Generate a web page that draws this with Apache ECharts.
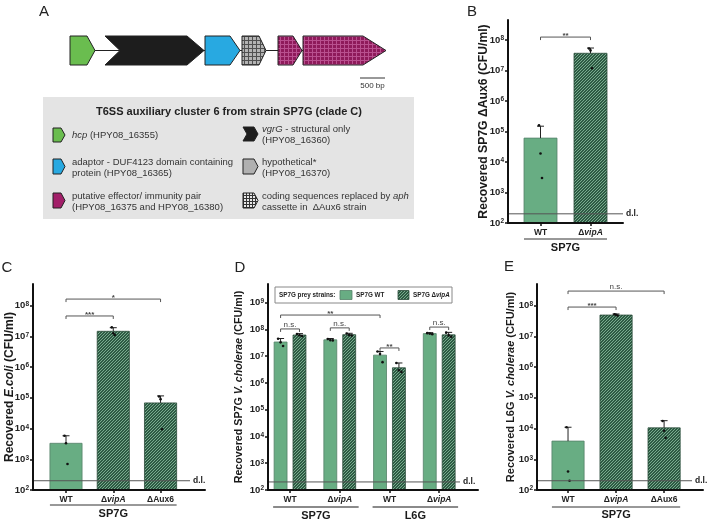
<!DOCTYPE html>
<html><head><meta charset="utf-8">
<script src="https://cdn.jsdelivr.net/npm/echarts@6/dist/echarts.min.js"></script>
<style>html,body{margin:0;padding:0;background:#fff}#c{width:709px;height:520px}</style>
</head><body><div id="c"></div>
<script>
// ================= DATA =================
// Panel A – gene map (bp)
const geneIds = ['hcp', 'vgrG', 'adaptor', 'hypothetical', 'effector', 'immunity'];
const geneStartBp = [0, 700, 2700, 3440, 4160, 4660];
const geneEndBp = [500, 2680, 3400, 3920, 4640, 6320];
const clusterLengthBp = 6320;
const scaleBarBp = 500;

const detectionLimit = 200; // CFU/ml

// Panel B – recovered SP7G ΔAux6
const bCategories = ['WT', 'ΔvipA'];
const bGroup = 'SP7G';
const bMeans = [6.1e4, 3.7e7];
const bSdTop = [1.5e5, 5.5e7];
const bReplicates = [[1.6e5, 1.9e4, 3.0e3], [5.3e7, 4.6e7, 1.2e7]];
const bSig = [[0, 1, '**']];
const bExponents = [2, 3, 4, 5, 6, 7, 8];

// Panel C – recovered E. coli
const cCategories = ['WT', 'ΔvipA', 'ΔAux6'];
const cGroup = 'SP7G';
const cMeans = [3.3e3, 1.45e7, 6.8e4];
const cSdTop = [5.8e3, 1.9e7, 1.15e5];
const cReplicates = [[5.8e3, 3.3e3, 7.0e2], [1.95e7, 1.25e7, 1.1e7], [1.1e5, 9.0e4, 9.5e3]];
const cSig = [[0, 2, '*'], [0, 1, '***']];
const cExponents = [2, 3, 4, 5, 6, 7, 8];

// Panel D – recovered SP7G V. cholerae (two prey strains)
const dDonors = ['WT', 'ΔvipA', 'WT', 'ΔvipA'];
const dDonorGroups = [['SP7G', 0, 1], ['L6G', 2, 3]];
const dPreyNames = ['SP7G WT', 'SP7G ΔvipA'];
const dPreyWtMeans = [3.4e7, 4.1e7, 1.1e7, 7.0e7];
const dPreyWtSdTop = [4.6e7, 4.6e7, 1.5e7, 7.6e7];
const dPreyWtReplicates = [[4.5e7, 3.3e7, 2.4e7], [4.4e7, 4.0e7, 3.9e7], [1.5e7, 1.2e7, 6.0e6], [7.3e7, 7.0e7, 6.7e7]];
const dPreyVipAMeans = [6.2e7, 6.4e7, 3.7e6, 6.3e7];
const dPreyVipASdTop = [7.0e7, 7.2e7, 5.6e6, 7.8e7];
const dPreyVipAReplicates = [[6.8e7, 6.1e7, 5.7e7], [7.1e7, 6.2e7, 5.9e7], [5.6e6, 3.0e6, 2.6e6], [7.6e7, 6.0e7, 5.4e7]];
// [fromDonor, fromPrey, toDonor, toPrey, label]
const dSig = [[0, 0, 0, 1, 'n.s.'], [1, 0, 1, 1, 'n.s.'], [2, 0, 2, 1, '**'], [3, 0, 3, 1, 'n.s.'], [0, 0, 2, 0, '**']];
const dExponents = [2, 3, 4, 5, 6, 7, 8, 9];

// Panel E – recovered L6G V. cholerae
const eCategories = ['WT', 'ΔvipA', 'ΔAux6'];
const eGroup = 'SP7G';
const eMeans = [3.9e3, 4.9e7, 1.05e4];
const eSdTop = [1.1e4, 5.3e7, 1.8e4];
const eReplicates = [[1.1e4, 4.0e2, 2.0e2], [5.2e7, 5.0e7, 4.7e7], [1.75e4, 8.5e3, 5.0e3]];
const eSig = [[0, 2, 'n.s.'], [0, 1, '***']];
const eExponents = [2, 3, 4, 5, 6, 7, 8];

// ================= LAYOUT / STYLE =================
const FONT = '"Liberation Sans", Arial, Helvetica, sans-serif';
const GREEN = '#68ad83', GREEN_EDGE = '#55826a';
const LAYOUT = {
  A: {grid: {left: 70, top: 36, width: 316, height: 29}},
  B: {grid: {left: 508, top: 20, width: 115, height: 203}, xMin: -0.65, xMax: 1.65, yMax: 8.66, barW: 0.66,
      nameGap: 18.5, nameSize: 12.2, dlEnd: 0, ulOff: 16, glOff: 25, jitter: 1.5, sigLevels: [8.10], ulColor: '#333', ulWidth: 1},
  C: {grid: {left: 33, top: 284, width: 172, height: 206}, xMin: -0.698, xMax: 2.94, yMax: 8.7, barW: 0.68,
      nameGap: 17.5, nameSize: 12, dlEnd: -15, ulOff: 15, glOff: 24, jitter: 1.5, sigLevels: [8.21, 7.66], ulColor: '#333', ulWidth: 1},
  D: {grid: {left: 268, top: 284, width: 210, height: 206}, xMin: -0.443, xMax: 3.78, yMax: 9.7, barW: 0.26, preyOffset: 0.19,
      nameGap: 23, nameSize: 10.7, dlEnd: -18, ulOff: 17, glOff: 26, jitter: 2.5, sigLevels: [8.02, 8.06, 7.31, 8.09, 8.54], ulColor: '#8a8a8a', ulWidth: 2},
  E: {grid: {left: 537, top: 284, width: 166, height: 206}, xMin: -0.646, xMax: 2.81, yMax: 8.7, barW: 0.67,
      nameGap: 20.5, nameSize: 11, dlEnd: -11, ulOff: 17, glOff: 25, jitter: 1.5, sigLevels: [8.47, 7.95], ulColor: '#333', ulWidth: 1}
};

function makeHatch(bg, fg, s) {
  const c = document.createElement('canvas'); c.width = c.height = s;
  const ctx = c.getContext('2d'); ctx.fillStyle = bg; ctx.fillRect(0, 0, s, s);
  ctx.strokeStyle = fg; ctx.lineWidth = 1; ctx.beginPath();
  ctx.moveTo(0, s); ctx.lineTo(s, 0);
  ctx.moveTo(-s, s); ctx.lineTo(s, -s);
  ctx.moveTo(0, 2 * s); ctx.lineTo(2 * s, 0);
  ctx.stroke(); return c;
}
function makeGridPat(bg, fg, s) {
  const c = document.createElement('canvas'); c.width = c.height = s;
  const ctx = c.getContext('2d'); ctx.fillStyle = bg; ctx.fillRect(0, 0, s, s);
  ctx.fillStyle = fg; ctx.fillRect(0, 0, s, 1); ctx.fillRect(0, 0, 1, s); return c;
}
const HATCH = {image: makeHatch('#2d5a43', '#79ab8e', 3), repeat: 'repeat'};
const GRID_GRAY = {image: makeGridPat('#b3b3b3', '#505050', 4), repeat: 'repeat'};
const GRID_MAG = {image: makeGridPat('#8f1a5b', '#b9508f', 4), repeat: 'repeat'};
const GRID_WHITE = {image: makeGridPat('#e8e8e8', '#333333', 3), repeat: 'repeat'};

const geneStyle = {
  hcp: {fill: '#6abd4f', tip: 8}, vgrG: {fill: '#1d1d1d', tip: 17, notch: 15},
  adaptor: {fill: '#28a9e1', tip: 10}, hypothetical: {fill: GRID_GRAY, tip: 7},
  effector: {fill: GRID_MAG, tip: 9}, immunity: {fill: GRID_MAG, tip: 23}
};

const lg = v => Math.log10(v);
const italicWords = ['vipA'];
function catLabel(label) {
  if (label.charAt(0) === 'Δ') {
    const rest = label.slice(1);
    return italicWords.indexOf(rest) >= 0 ? '{n|Δ}{i|' + rest + '}' : '{n|' + label + '}';
  }
  return '{n|' + label + '}';
}
const catRich = {
  n: {fontSize: 8.5, fontWeight: 'bold', color: '#222', fontFamily: FONT},
  i: {fontSize: 8.5, fontWeight: 'bold', fontStyle: 'italic', color: '#222', fontFamily: FONT}
};
const tickRich = {
  b: {fontSize: 9.5, fontWeight: 'bold', color: '#222', fontFamily: FONT},
  s: {fontSize: 6.5, fontWeight: 'bold', color: '#222', fontFamily: FONT, verticalAlign: 'top'}
};
function nameRich(size) {
  return {
    n: {fontSize: size, fontWeight: 'bold', color: '#1a1a1a', fontFamily: FONT},
    i: {fontSize: size, fontWeight: 'bold', fontStyle: 'italic', color: '#1a1a1a', fontFamily: FONT}
  };
}

// ================= PANEL SPECS =================
function simplePanel(key, cats, group, means, sds, reps, sig, exps, name) {
  const Lp = LAYOUT[key];
  return {
    key, exps, name,
    ticks: cats.map((c, i) => i), tickLabels: cats,
    bars: cats.map((c, i) => ({x: i, mean: means[i], sd: sds[i], reps: reps[i], kind: c === 'WT' ? 0 : 1})),
    sig: sig.map((s, k) => ({x1: s[0], x2: s[1], label: s[2], level: Lp.sigLevels[k]})),
    groups: [{label: group, x1: 0 - Lp.barW / 2, x2: cats.length - 1 + Lp.barW / 2}]
  };
}
const panels = [
  simplePanel('B', bCategories, bGroup, bMeans, bSdTop, bReplicates, bSig, bExponents, '{n|Recovered SP7G ΔAux6 (CFU/ml)}'),
  simplePanel('C', cCategories, cGroup, cMeans, cSdTop, cReplicates, cSig, cExponents, '{n|Recovered }{i|E.coli}{n| (CFU/ml)}'),
  (function () {
    const Lp = LAYOUT.D, off = Lp.preyOffset;
    const bars = [];
    dDonors.forEach((d, g) => {
      bars.push({x: g - off, mean: dPreyWtMeans[g], sd: dPreyWtSdTop[g], reps: dPreyWtReplicates[g], kind: 0});
      bars.push({x: g + off, mean: dPreyVipAMeans[g], sd: dPreyVipASdTop[g], reps: dPreyVipAReplicates[g], kind: 1});
    });
    return {
      key: 'D', exps: dExponents, name: '{n|Recovered SP7G }{i|V. cholerae}{n| (CFU/ml)}',
      ticks: dDonors.map((d, i) => i), tickLabels: dDonors, bars,
      sig: dSig.map((s, k) => ({x1: s[0] + (s[1] ? off : -off), x2: s[2] + (s[3] ? off : -off), label: s[4], level: Lp.sigLevels[k]})),
      groups: dDonorGroups.map(g => ({label: g[0], x1: g[1] - off - Lp.barW / 2 - 0.02, x2: g[2] + off + Lp.barW / 2 + 0.06}))
    };
  })(),
  simplePanel('E', eCategories, eGroup, eMeans, eSdTop, eReplicates, eSig, eExponents, '{n|Recovered L6G }{i|V. cholerae}{n| (CFU/ml)}')
];

// ================= OPTION =================
const grids = [Object.assign({}, LAYOUT.A.grid)];
const xAxes = [{gridIndex: 0, type: 'value', min: 0, max: clusterLengthBp, show: false}];
const yAxes = [{gridIndex: 0, type: 'value', min: 0, max: 1, show: false}];
const series = [];

// Panel A series
series.push({
  type: 'custom', xAxisIndex: 0, yAxisIndex: 0, clip: false, z: 1, silent: true,
  data: [[geneStartBp[0], geneEndBp[geneEndBp.length - 1]]],
  renderItem: (params, api) => {
    const a = api.coord([api.value(0), 0.5]), b = api.coord([api.value(1), 0.5]);
    return {type: 'line', shape: {x1: a[0], y1: a[1], x2: b[0] - 10, y2: b[1]}, style: {stroke: '#222', lineWidth: 1}};
  }
});
series.push({
  type: 'custom', xAxisIndex: 0, yAxisIndex: 0, clip: false, z: 2, silent: true,
  data: geneIds.map((g, i) => [geneStartBp[i], geneEndBp[i]]),
  renderItem: (params, api) => {
    const st = geneStyle[geneIds[params.dataIndex]];
    const s = api.coord([api.value(0), 1]), e = api.coord([api.value(1), 0]);
    const x1 = s[0], y1 = s[1], x2 = e[0], y2 = e[1], ym = (y1 + y2) / 2;
    const pts = [[x1, y1], [x2 - st.tip, y1], [x2, ym], [x2 - st.tip, y2], [x1, y2]];
    if (st.notch) pts.push([x1 + st.notch, ym]);
    return {type: 'polygon', shape: {points: pts}, style: {fill: st.fill, stroke: '#222', lineWidth: 1}};
  }
});
series.push({
  type: 'custom', xAxisIndex: 0, yAxisIndex: 0, clip: false, z: 2, silent: true,
  data: [[clusterLengthBp - 20 - scaleBarBp, clusterLengthBp - 20]],
  renderItem: (params, api) => {
    const cs = params.coordSys;
    const a = api.coord([api.value(0), 0]), b = api.coord([api.value(1), 0]);
    const y = cs.y + cs.height + 13;
    return {type: 'group', children: [
      {type: 'line', shape: {x1: a[0], y1: y, x2: b[0], y2: y}, style: {stroke: '#333', lineWidth: 1}},
      {type: 'text', x: (a[0] + b[0]) / 2, y: y + 8, style: {text: scaleBarBp + ' bp', fill: '#333', font: '8px ' + FONT, align: 'center', verticalAlign: 'middle'}}
    ]};
  }
});

panels.forEach((p, k) => {
  const gi = k + 1, Lp = LAYOUT[p.key];
  grids.push(Object.assign({containLabel: false, outerBoundsMode: 'none'}, Lp.grid));
  xAxes.push({
    gridIndex: gi, type: 'value', min: Lp.xMin, max: Lp.xMax, z: 6,
    axisLine: {show: true, onZero: false, lineStyle: {color: '#111', width: 2}},
    axisTick: {show: true, customValues: p.ticks, length: 3, lineStyle: {color: '#111', width: 1.5}},
    axisLabel: {show: true, customValues: p.ticks, margin: 5, formatter: v => catLabel(p.tickLabels[Math.round(v)]), rich: catRich},
    splitLine: {show: false}
  });
  yAxes.push({
    gridIndex: gi, type: 'value', min: 2, max: Lp.yMax, interval: 1, z: 6,
    axisLine: {show: true, onZero: false, lineStyle: {color: '#111', width: 2}},
    axisTick: {show: true, customValues: p.exps, length: 3, lineStyle: {color: '#111', width: 1.5}},
    axisLabel: {show: true, customValues: p.exps, margin: 4, formatter: v => Number.isInteger(v) ? '{b|10}{s|' + v + '}' : '', rich: tickRich},
    splitLine: {show: false},
    name: p.name, nameLocation: 'middle', nameGap: Lp.nameGap, nameMoveOverlap: false,
    nameTextStyle: {fontSize: Lp.nameSize, fontWeight: 'bold', fontFamily: FONT, color: '#1a1a1a', rich: nameRich(Lp.nameSize)}
  });
  // bars, error bars, replicate points
  series.push({
    type: 'custom', xAxisIndex: gi, yAxisIndex: gi, clip: false, z: 3, silent: true,
    data: p.bars.map(b => [b.x, lg(b.mean), lg(b.sd), lg(b.reps[0]), lg(b.reps[1]), lg(b.reps[2]), b.kind]),
    renderItem: (params, api) => {
      const x = api.value(0), kind = api.value(6);
      const base = api.coord([x, 2]), top = api.coord([x, api.value(1)]), err = api.coord([x, api.value(2)]);
      const w = api.size([Lp.barW, 0])[0];
      const kids = [
        {type: 'rect', shape: {x: base[0] - w / 2, y: top[1], width: w, height: base[1] - top[1]},
         style: {fill: kind ? HATCH : GREEN, stroke: kind ? '#2b4b3a' : GREEN_EDGE, lineWidth: 0.8}},
        {type: 'line', shape: {x1: top[0], y1: top[1], x2: err[0], y2: err[1]}, style: {stroke: '#222', lineWidth: 1}},
        {type: 'line', shape: {x1: err[0] - 3.5, y1: err[1], x2: err[0] + 3.5, y2: err[1]}, style: {stroke: '#222', lineWidth: 1}}
      ];
      [3, 4, 5].forEach((d, j) => {
        const pt = api.coord([x, api.value(d)]);
        kids.push({type: 'circle', shape: {cx: pt[0] + (j - 1) * Lp.jitter, cy: pt[1], r: 1.3}, style: {fill: '#111'}});
      });
      return {type: 'group', children: kids};
    }
  });
  // detection limit
  series.push({
    type: 'custom', xAxisIndex: gi, yAxisIndex: gi, clip: false, z: 4, silent: true,
    data: [[lg(detectionLimit)]],
    renderItem: (params, api) => {
      const cs = params.coordSys;
      const y = api.coord([0, api.value(0)])[1];
      const xe = cs.x + cs.width + Lp.dlEnd;
      return {type: 'group', children: [
        {type: 'line', shape: {x1: cs.x, y1: y, x2: xe, y2: y}, style: {stroke: '#555', lineWidth: 1}},
        {type: 'text', x: xe + 3, y: y, style: {text: 'd.l.', fill: '#222', font: 'bold 8.5px ' + FONT, align: 'left', verticalAlign: 'middle'}}
      ]};
    }
  });
  // significance brackets
  series.push({
    type: 'custom', xAxisIndex: gi, yAxisIndex: gi, clip: false, z: 4, silent: true,
    data: p.sig.map(s => [s.x1, s.x2, s.level]),
    renderItem: (params, api) => {
      const s = p.sig[params.dataIndex];
      const a = api.coord([api.value(0), api.value(2)]), b = api.coord([api.value(1), api.value(2)]);
      const stars = s.label.charAt(0) === '*';
      return {type: 'group', children: [
        {type: 'polyline', shape: {points: [[a[0], a[1] + 3], [a[0], a[1]], [b[0], b[1]], [b[0], b[1] + 3]]}, style: {stroke: '#555', lineWidth: 1, fill: null}},
        {type: 'text', x: (a[0] + b[0]) / 2, y: stars ? a[1] - 1 : a[1] - 4.5,
         style: {text: s.label, fill: '#444', font: (stars ? 'bold 8px ' : '8px ') + FONT, align: 'center', verticalAlign: 'middle'}}
      ]};
    }
  });
  // group underline + label
  series.push({
    type: 'custom', xAxisIndex: gi, yAxisIndex: gi, clip: false, z: 4, silent: true,
    data: p.groups.map(g => [g.x1, g.x2]),
    renderItem: (params, api) => {
      const cs = params.coordSys, g = p.groups[params.dataIndex];
      const a = api.coord([api.value(0), 2]), b = api.coord([api.value(1), 2]);
      const yl = cs.y + cs.height + Lp.ulOff;
      return {type: 'group', children: [
        {type: 'line', shape: {x1: a[0], y1: yl, x2: b[0], y2: yl}, style: {stroke: Lp.ulColor, lineWidth: Lp.ulWidth}},
        {type: 'text', x: (a[0] + b[0]) / 2, y: cs.y + cs.height + Lp.glOff,
         style: {text: g.label, fill: '#1a1a1a', font: 'bold 11px ' + FONT, align: 'center', verticalAlign: 'middle'}}
      ]};
    }
  });
});

// ================= GRAPHIC (panel letters, legends) =================
function pentagon(x, y, w, h, tip, fill, notch) {
  const pts = [[x, y], [x + w - tip, y], [x + w, y + h / 2], [x + w - tip, y + h], [x, y + h]];
  if (notch) pts.push([x + notch, y + h / 2]);
  return {type: 'polygon', shape: {points: pts}, style: {fill: fill, stroke: '#222', lineWidth: 1}};
}
const legRich = {
  n: {fontSize: 9.5, fontFamily: FONT, fill: '#333', color: '#333', lineHeight: 11},
  i: {fontSize: 9.5, fontFamily: FONT, fontStyle: 'italic', fill: '#333', color: '#333', lineHeight: 11}
};
function legText(x, y, txt) {
  return {type: 'text', x: x, y: y, style: {text: txt, rich: legRich, font: '9.5px ' + FONT, fill: '#333', align: 'left', verticalAlign: 'middle', lineHeight: 11}};
}
function letter(t, x, y) {
  return {type: 'text', x: x, y: y, style: {text: t, font: '15px ' + FONT, fill: '#222', align: 'center', verticalAlign: 'middle'}};
}
const smallRich = {
  n: {fontSize: 6.3, fontWeight: 'bold', fontFamily: FONT, fill: '#222', color: '#222'},
  i: {fontSize: 6.3, fontWeight: 'bold', fontStyle: 'italic', fontFamily: FONT, fill: '#222', color: '#222'}
};
const graphic = [
  letter('A', 44, 12), letter('B', 472, 12), letter('C', 7, 268), letter('D', 240, 268), letter('E', 509, 267),
  {type: 'rect', shape: {x: 43, y: 97, width: 371, height: 122}, style: {fill: '#e4e4e4'}, z: -1},
  {type: 'text', x: 229, y: 112, style: {text: 'T6SS auxiliary cluster 6 from strain SP7G (clade C)', font: 'bold 11px ' + FONT, fill: '#222', align: 'center', verticalAlign: 'middle'}},
  pentagon(53, 128, 12, 14, 4, '#6abd4f'),
  legText(72, 135, '{i|hcp}{n| (HPY08_16355)}'),
  pentagon(53, 159, 12, 15, 4, '#28a9e1'),
  legText(72, 167.5, '{n|adaptor - DUF4123 domain containing}\n{n|protein (HPY08_16365)}'),
  pentagon(53, 193, 12, 15, 4, '#a21f69'),
  legText(72, 201.5, '{n|putative effector/ immunity pair}\n{n|(HPY08_16375 and HPY08_16380)}'),
  pentagon(243, 127, 15, 14, 4, '#1d1d1d', 4),
  legText(262, 134.5, '{i|vgrG}{n| - structural only}\n{n|(HPY08_16360)}'),
  pentagon(243, 159, 15, 15, 4, '#b0b0b0'),
  legText(262, 167.5, '{n|hypothetical*}\n{n|(HPY08_16370)}'),
  pentagon(243, 193, 15, 15, 4, GRID_WHITE),
  legText(262, 201.5, '{n|coding sequences replaced by }{i|aph}\n{n|cassette in  ΔAux6 strain}'),
  // Panel D legend
  {type: 'rect', shape: {x: 275, y: 287, width: 177, height: 16}, style: {fill: '#fff', stroke: '#888', lineWidth: 1}, z: 10},
  {type: 'text', x: 279, y: 295, z: 11, style: {text: '{n|SP7G prey strains:}', rich: smallRich, font: 'bold 6.3px ' + FONT, fill: '#222', align: 'left', verticalAlign: 'middle'}},
  {type: 'rect', shape: {x: 340, y: 290.5, width: 12, height: 9}, z: 11, style: {fill: GREEN, stroke: GREEN_EDGE, lineWidth: 0.8}},
  {type: 'text', x: 356, y: 295, z: 11, style: {text: '{n|' + dPreyNames[0] + '}', rich: smallRich, font: 'bold 6.3px ' + FONT, fill: '#222', align: 'left', verticalAlign: 'middle'}},
  {type: 'rect', shape: {x: 398, y: 290.5, width: 11, height: 9}, z: 11, style: {fill: HATCH, stroke: '#2b4b3a', lineWidth: 0.8}},
  {type: 'text', x: 413, y: 295, z: 11, style: {text: '{n|SP7G Δ}{i|vipA}', rich: smallRich, font: 'bold 6.3px ' + FONT, fill: '#222', align: 'left', verticalAlign: 'middle'}}
];

const chart = echarts.init(document.getElementById('c'), null, {renderer: 'canvas', width: 709, height: 520});
chart.setOption({
  animation: false,
  backgroundColor: '#fff',
  textStyle: {fontFamily: FONT},
  grid: grids, xAxis: xAxes, yAxis: yAxes, series: series, graphic: graphic
});
</script></body></html>
